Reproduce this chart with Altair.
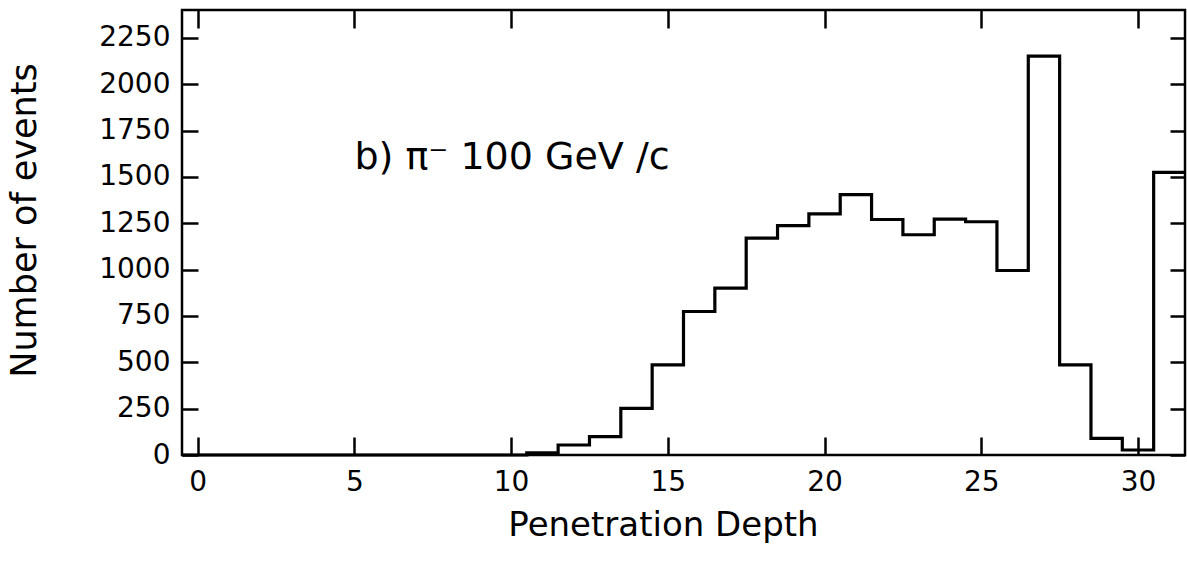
import altair as alt
import pandas as pd

# Bin centres (penetration depth) and counts per bin
depth = list(range(0, 32))
events = [0, 0, 0, 0, 0, 0, 0, 0, 0, 0, 0,
          12, 54, 99, 252, 486, 774, 900, 1170, 1237, 1300,
          1404, 1270, 1188, 1272, 1258, 995, 2151, 486, 90, 27, 1524]
x_ticks = [0, 5, 10, 15, 20, 25, 30]
y_ticks = [0, 250, 500, 750, 1000, 1250, 1500, 1750, 2000, 2250]
label_text = ["b)  π⁻ 100 GeV /c"]

edges = [d - 0.5 for d in depth] + [depth[-1] + 0.5]
steps = events + [events[-1]]
df = pd.DataFrame({"edge": edges, "count": steps})

FONT = "DejaVu Sans"
xscale = alt.Scale(domain=[-0.5, 31.5], nice=False, zero=False)
yscale = alt.Scale(domain=[0, 2400], nice=False)

base = alt.Chart(df)

line = base.mark_line(interpolate="step-after", color="black", strokeWidth=3.2).encode(
    x=alt.X("edge:Q", scale=xscale,
            axis=alt.Axis(orient="bottom", values=x_ticks, title="Penetration Depth",
                          format="d", offset=-18, tickSize=18, domain=False, grid=False,
                          labelPadding=13, titlePadding=12, titleFontSize=34,
                          titleX=481)),
    y=alt.Y("count:Q", scale=yscale,
            axis=alt.Axis(orient="left", values=y_ticks, title="Number of events",
                          format="d", offset=-16, tickSize=16, domain=False, grid=False,
                          labelPadding=12, titlePadding=56, titleFontSize=35,
                          titleY=210)),
)

mirror = base.mark_line(opacity=0).encode(
    x=alt.X("edge:Q", scale=xscale,
            axis=alt.Axis(orient="top", values=x_ticks, title="", labels=False,
                          offset=-18, tickSize=18, domain=False, grid=False)),
    y=alt.Y("count:Q", scale=yscale,
            axis=alt.Axis(orient="right", values=y_ticks, title="", labels=False,
                          offset=-15, tickSize=15, domain=False, grid=False)),
)

note = alt.Chart(pd.DataFrame({"t": label_text})).mark_text(
    align="left", baseline="alphabetic", font=FONT, fontSize=38, color="black"
).encode(
    x=alt.XDatum(5, scale=xscale, axis=None),
    y=alt.YDatum(1545, scale=yscale, axis=None),
    text="t:N",
)

chart = alt.layer(line, note, mirror).resolve_axis(
    x="independent", y="independent"
).properties(
    width=1003, height=445,
    padding={"left": 182, "top": 10, "right": 2, "bottom": 106},
    autosize="none",
    background="white",
).configure_view(
    stroke="black", strokeWidth=2.5
).configure_axis(
    labelFont=FONT, labelFontSize=28, labelColor="black",
    titleFont=FONT, titleFontWeight="normal", titleColor="black",
    tickColor="black", tickWidth=2.5,
)

chart.save("out.html", embed_options={"renderer": "svg", "actions": False})
